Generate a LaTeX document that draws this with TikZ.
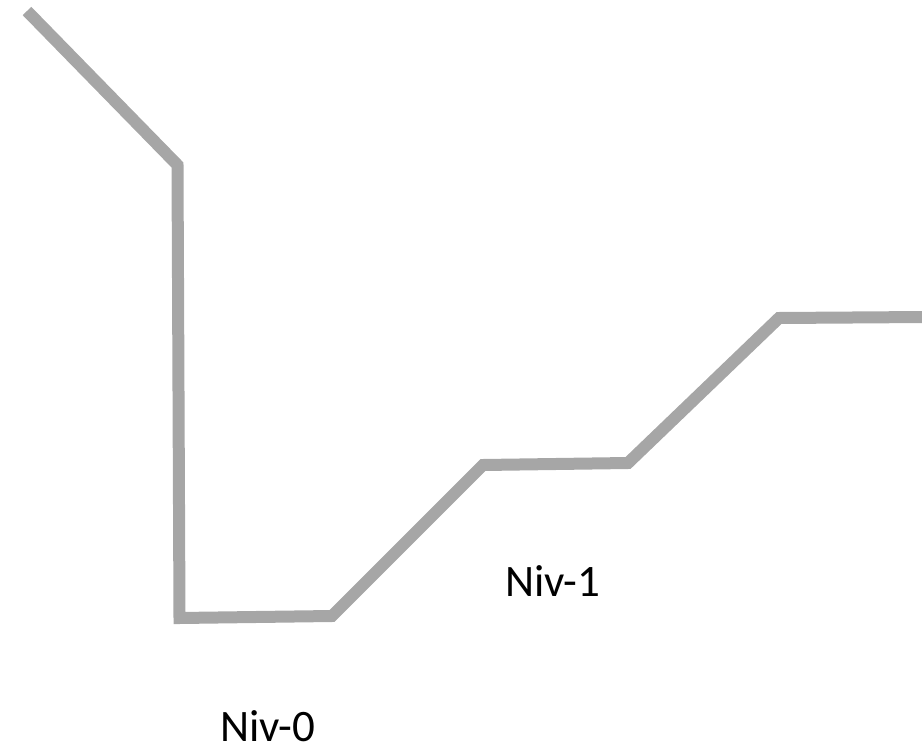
\documentclass[tikz,border=0pt]{standalone}
\usepackage{fontspec}
\setmainfont{Carlito}
\definecolor{linegray}{HTML}{A6A6A6}
\begin{document}
\begin{tikzpicture}[x=1pt,y=-1pt,
  profile/.style={draw=linegray,line width=12pt,line join=miter},
  lbl/.style={anchor=base west,inner sep=0pt,text depth=0pt,font=\fontsize{45pt}{54pt}\selectfont}]
\useasboundingbox (0,0) rectangle (922,747);
\coordinate (p0) at (27,11);
\coordinate (p1) at (177.5,165);
\coordinate (p2) at (179.5,618);
\coordinate (p3) at (332,616);
\coordinate (p4) at (483,465);
\coordinate (p5) at (628,463);
\coordinate (p6) at (779,318);
\coordinate (p7) at (925,317);
\draw[profile] (p0) -- (p1) -- (p2) -- (p3) -- (p4) -- (p5) -- (p6) -- (p7);
\node[lbl] (n1) at (505,596) {Niv-1};
\node[lbl] (n0) at (220,741) {Niv-0};
\end{tikzpicture}
\end{document}
